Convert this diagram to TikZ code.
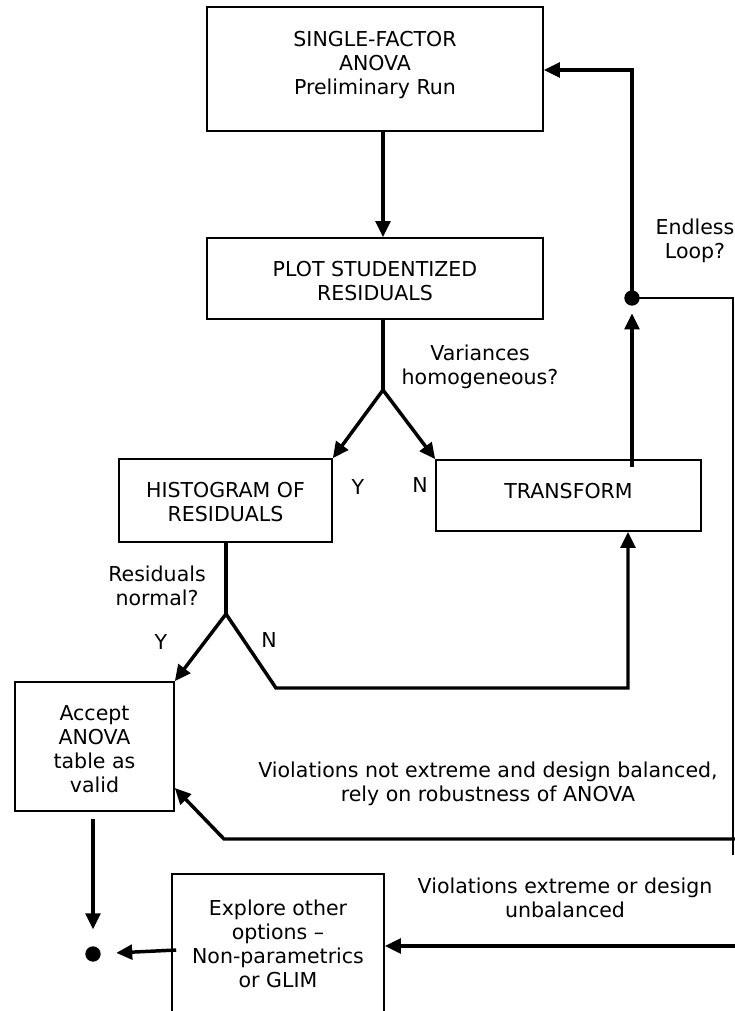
\documentclass[tikz,border=0pt]{standalone}
\usepackage{fontspec}
\setmainfont{DejaVu Sans}
\usetikzlibrary{arrows.meta}
\begin{document}
\begin{tikzpicture}[x=0.75pt,y=-0.75pt,
  every node/.style={font=\fontsize{15.4pt}{18pt}\selectfont},
  box/.style={draw, line width=1.2pt, rectangle, align=center, inner sep=0pt},
  lbl/.style={inner sep=0pt, align=center},
  conn/.style={line width=2.6pt},
  arr/.style={conn, -{Triangle[length=12pt,width=11pt]}},
  thinconn/.style={line width=1.7pt},
  dotnode/.style={circle, fill, inner sep=0pt, minimum size=11.5pt}]
\useasboundingbox (0,0) rectangle (735,1011);
\clip (0,0) rectangle (735,1011);
% boxes
\node[box, minimum width=252pt, minimum height=93pt] (top) at (375,69)
  {SINGLE-FACTOR\\ANOVA\\Preliminary Run\rule[-9.5pt]{0pt}{9.5pt}};
\node[box, minimum width=252pt, minimum height=60.75pt] (plot) at (375,278.5)
  {\rule{0pt}{15pt}PLOT STUDENTIZED\\RESIDUALS};
\node[box, minimum width=159.75pt, minimum height=62.25pt] (hist) at (225.5,500.5)
  {\rule{0pt}{14.25pt}HISTOGRAM OF\\RESIDUALS};
\node[box, minimum width=198.75pt, minimum height=53.25pt, text height=11.25pt, text depth=7.5pt] (trans) at (568.5,495.5)
  {TRANSFORM};
\node[box, minimum width=119.25pt, minimum height=96.75pt] (accept) at (94.5,746.5)
  {\rule{0pt}{15.2pt}Accept\\ANOVA\\table as\\valid};
\node[box, minimum width=159pt, minimum height=104.25pt] (explore) at (278,943.5)
  {Explore other\\options –\\Non-parametrics\\or GLIM};
% labels
\node[lbl] (qvar) at (480,367) {Variances\\homogeneous?};
\node[lbl] (y1) at (358,487) {Y};
\node[lbl] (n1) at (420,485) {N};
\node[lbl] (qres) at (157,586) {Residuals\\normal?};
\node[lbl] (y2) at (161,642) {Y};
\node[lbl] (n2) at (269,640) {N};
\node[lbl] (qloop) at (695,241) {Endless\\Loop?};
\node[lbl] (vrob) at (488,784) {Violations not extreme and design balanced,\\rely on robustness of ANOVA};
\node[lbl] (vext) at (565,897.5) {Violations extreme or design\\unbalanced};
% junctions
\coordinate (f1) at (383,390);
\coordinate (f2) at (226,614);
\coordinate (k1) at (276,688);
\coordinate (k2) at (628,688);
\node[dotnode] (d1) at (632,298) {};
\coordinate (c1) at (632,70);
\coordinate (r1) at (733,298);
\coordinate (r2) at (733,855);
\coordinate (e1) at (735,839);
\coordinate (e2) at (224,839);
\coordinate (h788) at (0,788);
\coordinate (e3) at (735,946);
\node[dotnode] (d2) at (93,954) {};
\path (trans.north -| d1) ++(0,8) coordinate (t0);
\path (accept.south -| d2) ++(0,7) coordinate (a0);
\path (explore.west) ++(5,6.5) coordinate (x0);
% connectors
\draw[arr] (top.south -| f1) -- (plot.north -| f1);
\draw[conn] (plot.south -| f1) -- (f1);
\draw[arr] (f1) -- (hist.north east);
\draw[arr] (f1) -- (trans.north west);
\draw[conn] (hist.south -| f2) -- (f2);
\draw[arr] (f2) -- (accept.north east);
\draw[arr] (f2) -- (k1) -- (k2) -- (trans.south -| k2);
\draw[arr, shorten >=5.5pt] (t0) -- (d1.south);
\draw[arr] (d1.center) -- (c1) -- (c1 -| top.east);
\draw[thinconn] (d1.center) -- (r1) -- (r2);
\draw[arr] (e1) -- (e2) -- (accept.east |- h788);
\draw[arr] (e3) -- (explore.east |- e3);
\draw[arr, shorten >=12.5pt] (a0) -- (d2.north);
\draw[arr, shorten >=11.5pt] (x0) -- (d2);
\end{tikzpicture}
\end{document}
